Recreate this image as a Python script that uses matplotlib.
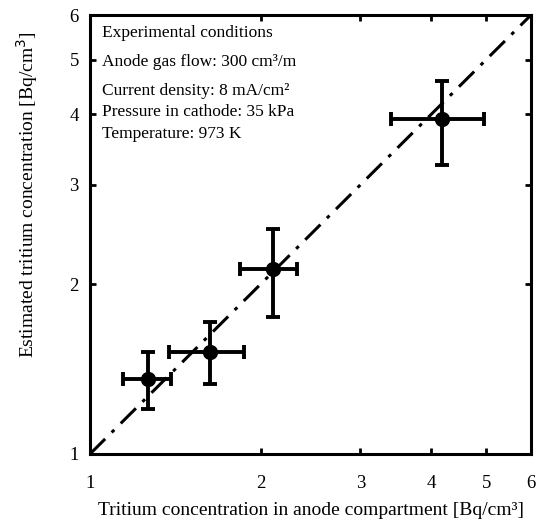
import numpy as np
import matplotlib.pyplot as plt
from matplotlib.ticker import FixedLocator, NullLocator

plt.rcParams['font.family'] = ['Liberation Serif', 'DejaVu Serif']

# measured vs estimated tritium concentration [Bq/cm3]
measured = [1.267, 1.628, 2.106, 4.174]
estimated = [1.358, 1.517, 2.125, 3.920]
x_low = [1.145, 1.380, 1.839, 3.393]
x_high = [1.388, 1.869, 2.316, 4.957]
y_low = [1.203, 1.329, 1.751, 3.253]
y_high = [1.518, 1.714, 2.502, 4.587]

ticks = [1, 2, 3, 4, 5, 6]
conditions = ['Experimental conditions',
              'Anode gas flow: 300 cm\u00b3/m',
              'Current density: 8 mA/cm\u00b2',
              'Pressure in cathode: 35 kPa',
              'Temperature: 973 K']

fig = plt.figure(figsize=(5.42, 5.25), dpi=100)
ax = fig.add_axes([90 / 542, 1 - 454 / 525, 441 / 542, 439 / 525])

ax.plot([1, 6], [1, 6], color='black', lw=2.2, dashes=(7, 3, 1.2, 3))

m = np.array(measured)
e = np.array(estimated)
xerr = [m - np.array(x_low), np.array(x_high) - m]
yerr = [e - np.array(y_low), np.array(y_high) - e]
ax.errorbar(m, e, xerr=xerr, yerr=yerr, fmt='o', color='black', ms=10,
            elinewidth=2.8, capsize=5, capthick=2.8, zorder=3)

ax.set_xscale('log')
ax.set_yscale('log')
ax.set_xlim(1, 6)
ax.set_ylim(1, 6)
for axis in (ax.xaxis, ax.yaxis):
    axis.set_major_locator(FixedLocator(ticks))
    axis.set_minor_locator(NullLocator())
ax.set_xticklabels([str(t) for t in ticks])
ax.set_yticklabels([str(t) for t in ticks])
ax.tick_params(direction='in', length=4, width=2, top=True, right=True,
               labelsize=13.5)
ax.tick_params(axis='x', pad=15)
ax.tick_params(axis='y', pad=8)
for s in ax.spines.values():
    s.set_linewidth(2.2)

ax.set_xlabel('Tritium concentration in anode compartment [Bq/cm\u00b3]',
              fontsize=14, labelpad=7)
ax.set_ylabel('Estimated tritium concentration [Bq/cm$^3$]', fontsize=14)
# y label sits above the axis centre
ax.yaxis.set_label_coords(-0.114, 0.59)

text_y = [33, 62, 91, 112, 134]
for t, yp in zip(conditions, text_y):
    fig.text(102 / 542, 1 - yp / 525, t, fontsize=12.5, va='center', ha='left')

fig.savefig('out.png', dpi=100)
